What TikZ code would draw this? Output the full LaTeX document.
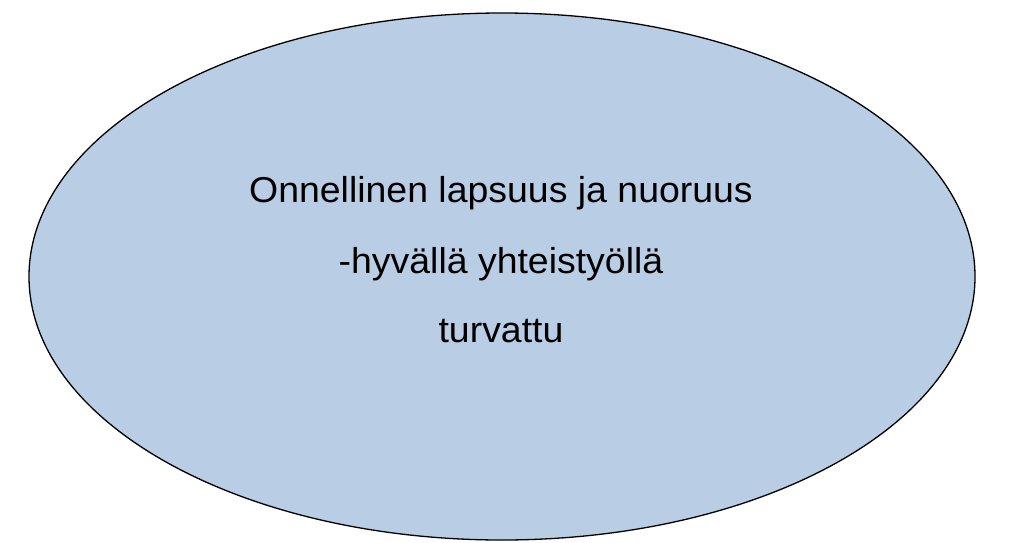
\documentclass[tikz,border=0pt]{standalone}
\usepackage{fontspec}
\setmainfont{Liberation Sans}
\usetikzlibrary{shapes.geometric}
\definecolor{fillblue}{HTML}{B9CDE5}
\tikzset{
  oval/.style={ellipse, draw=black, line width=1.3pt, fill=fillblue, minimum width=946pt, minimum height=527pt, inner sep=0pt},
  lbl/.style={font=\fontsize{36}{40}\selectfont, anchor=base, text=black, inner sep=0pt, xscale=1.04}
}
\begin{document}
\begin{tikzpicture}[x=1pt,y=-1pt]
\useasboundingbox (0,0) rectangle (1023,542);
\node[oval] (e) at (502,276.5) {};
\node[lbl] (l1) at (501,202) {Onnellinen lapsuus ja nuoruus};
\node[lbl] (l2) at (501,273) {-hyvällä yhteistyöllä};
\node[lbl] (l3) at (501,342) {turvattu};
\end{tikzpicture}
\end{document}
